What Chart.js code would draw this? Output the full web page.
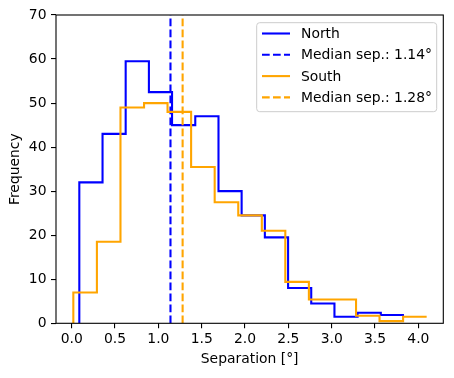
<!DOCTYPE html>
<html>
<head>
<meta charset="utf-8">
<script src="https://cdn.jsdelivr.net/npm/chart.js@4.4.0/dist/chart.umd.min.js"></script>
<style>
  html, body { margin: 0; padding: 0; background: #fff; }
  #wrap { width: 454px; height: 378px; }
</style>
</head>
<body>
<div id="wrap"><canvas id="hist" width="454" height="378"></canvas></div>
<script>
"use strict";

// bin edges and heights
const northEdges = [0.088, 0.356, 0.623, 0.891, 1.158, 1.426, 1.694, 1.961, 2.229, 2.497, 2.764, 3.032, 3.299, 3.567, 3.834];
const northCounts = [32, 43, 59.5, 52.5, 45, 47, 30, 24.5, 19.5, 8, 4.5, 1.5, 2.4, 1.9];
const southEdges = [0.019, 0.291, 0.563, 0.835, 1.106, 1.378, 1.65, 1.922, 2.194, 2.465, 2.737, 3.009, 3.281, 3.552, 3.824, 4.096];
const southCounts = [7, 18.5, 49, 50, 48, 35.5, 27.5, 24.5, 21, 9.4, 5.4, 5.4, 1.7, 0.5, 1.5];
const medianNorth = 1.14;
const medianSouth = 1.28;
const xTicks = [0, 0.5, 1, 1.5, 2, 2.5, 3, 3.5, 4];
const yTicks = [0, 10, 20, 30, 40, 50, 60, 70];

const BLUE = "#0000ff";
const ORANGE = "#ffa500";
const FONT = {family: "'DejaVu Sans', sans-serif", size: 13.9};
const DASH = [7.7, 3.3];

// outline of a step histogram: up from 0 at the first edge, no drop at the end
const stepPoints = (edges, counts) => {
    const pts = [{x: edges[0], y: 0}];
    counts.forEach((c, i) => pts.push({x: edges[i], y: c}));
    pts.push({x: edges[edges.length - 1], y: counts[counts.length - 1]});
    return pts;
};

const vline = (x) => [{x: x, y: yTicks[0]}, {x: x, y: yTicks[yTicks.length - 1]}];

const framePlugin = {
    id: "frame",
    afterDatasetsDraw(chart) {
        const {ctx, chartArea: a} = chart;
        ctx.save();
        ctx.strokeStyle = "#000";
        ctx.lineWidth = 1.1;
        ctx.strokeRect(a.left, a.top, a.right - a.left, a.bottom - a.top);
        ctx.restore();
    }
};

const legendPlugin = {
    id: "boxLegend",
    afterDraw(chart) {
        const ctx = chart.ctx;
        const bx = 256.7, by = 22.7, bw = 180, bh = 89;
        ctx.save();
        ctx.fillStyle = "rgba(255,255,255,0.8)";
        ctx.strokeStyle = "#cccccc";
        ctx.lineWidth = 1;
        ctx.beginPath();
        ctx.roundRect(bx, by, bw, bh, 3);
        ctx.fill();
        ctx.stroke();
        ctx.font = FONT.size + "px " + FONT.family;
        ctx.textBaseline = "middle";
        ctx.fillStyle = "#000";
        chart.data.datasets.forEach((ds, row) => {
            const y = 33.5 + row * 21.3;
            ctx.beginPath();
            ctx.strokeStyle = ds.borderColor;
            ctx.lineWidth = ds.borderWidth;
            ctx.setLineDash(ds.borderDash || []);
            ctx.moveTo(262, y);
            ctx.lineTo(290, y);
            ctx.stroke();
            ctx.setLineDash([]);
            ctx.fillText(ds.label, 301, y + 1);
        });
        ctx.restore();
    }
};

const lineSet = (label, data, color, dash, order) => ({
    label: label,
    data: data,
    borderColor: color,
    borderWidth: 2.1,
    borderDash: dash,
    stepped: dash.length ? false : true,
    pointRadius: 0,
    fill: false,
    order: order,
});

new Chart(document.querySelector("#hist"), {
    type: "line",
    data: {
        datasets: [
            lineSet("North", stepPoints(northEdges, northCounts), BLUE, [], 3),
            lineSet("Median sep.: " + medianNorth.toFixed(2) + "°", vline(medianNorth), BLUE, DASH, 2),
            lineSet("South", stepPoints(southEdges, southCounts), ORANGE, [], 1),
            lineSet("Median sep.: " + medianSouth.toFixed(2) + "°", vline(medianSouth), ORANGE, DASH, 0),
        ],
    },
    options: {
        responsive: false,
        animation: false,
        layout: {padding: {left: 0, right: 10.7, top: 15, bottom: 0}},
        plugins: {
            legend: {display: false},
            tooltip: {enabled: false},
        },
        scales: {
            x: {
                type: "linear",
                min: -0.181,
                max: 4.288,
                afterBuildTicks: (s) => { s.ticks = xTicks.map(v => ({value: v})); },
                afterFit: (s) => { s.height = 54.7; },
                ticks: {
                    callback: (v) => Number(v).toFixed(1),
                    color: "#000",
                    font: FONT,
                    padding: 3,
                    maxRotation: 0,
                    autoSkip: false,
                },
                grid: {drawOnChartArea: false, tickLength: 5, tickColor: "#000", lineWidth: 1.1},
                border: {display: false},
                title: {display: true, text: "Separation [°]", color: "#000", font: FONT, padding: {top: 0, bottom: 10}},
            },
            y: {
                min: yTicks[0],
                max: yTicks[yTicks.length - 1],
                afterBuildTicks: (s) => { s.ticks = yTicks.map(v => ({value: v})); },
                afterFit: (s) => { s.width = 56; },
                ticks: {color: "#000", font: FONT, padding: 4.5},
                grid: {drawOnChartArea: false, tickLength: 5, tickColor: "#000", lineWidth: 1.1},
                border: {display: false},
                title: {display: true, text: "Frequency", color: "#000", font: FONT, padding: {top: 6.7, bottom: 0}},
            },
        },
    },
    plugins: [framePlugin, legendPlugin],
});
</script>
</body>
</html>
